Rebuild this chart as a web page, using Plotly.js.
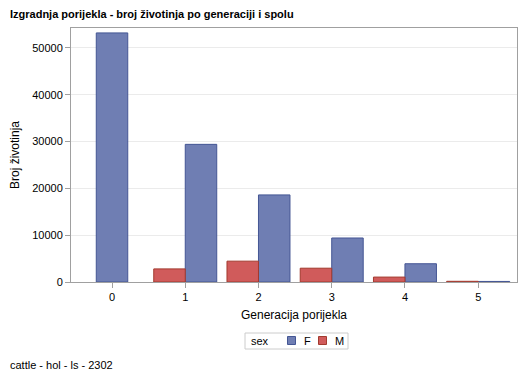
<!DOCTYPE html>
<html>
<head>
<meta charset="utf-8">
<script src="https://cdn.plot.ly/plotly-3.0.1.min.js"></script>
<style>html,body{margin:0;padding:0;background:#fff;}#chart{width:529px;height:378px;}</style>
</head>
<body>
<div id="chart"></div>
<script>
const generations = [0, 1, 2, 3, 4, 5];
const femaleCounts = [53200, 29400, 18600, 9400, 3900, 120];
const maleCounts = [null, 2800, 4450, 2950, 1050, 150];
const yTicks = [0, 10000, 20000, 30000, 40000, 50000];
const seriesNames = ['F', 'M'];
const legendTitle = 'sex';

const barW = 0.43;
const fOffset = maleCounts.map(v => v == null ? -barW / 2 : 0);
const mOffset = maleCounts.map(() => -barW);

const font = "Arial, 'Liberation Sans', sans-serif";
const fill = {F: '#6F7EB3', M: '#D05B5B'};
const edge = {F: '#445694', M: '#A23A2E'};

const M = {l: 71, r: 12, t: 28, b: 96};
const W = 529, H = 378;
const pw = W - M.l - M.r, ph = H - M.t - M.b;
const px = x => (x - M.l) / pw;
const py = y => (H - M.b - y) / ph;

const traces = [
  {
    type: 'bar', name: 'F', x: generations, y: femaleCounts,
    width: barW, offset: fOffset,
    marker: {color: fill.F, line: {color: edge.F, width: 1}}
  },
  {
    type: 'bar', name: 'M', x: generations, y: maleCounts,
    width: barW, offset: mOffset,
    marker: {color: fill.M, line: {color: edge.M, width: 1}}
  }
];

// legend drawn by hand (SAS-style compact box)
const shapes = [
  {type: 'rect', xref: 'paper', yref: 'paper', x0: px(245), x1: px(348), y0: py(333), y1: py(349),
   line: {color: '#CCCCCC', width: 1}, fillcolor: '#fff', layer: 'above'},
  {type: 'rect', xref: 'paper', yref: 'paper', x0: px(287.5), x1: px(295.5), y0: py(336.5), y1: py(344.5),
   line: {color: edge.F, width: 1}, fillcolor: fill.F, layer: 'above'},
  {type: 'rect', xref: 'paper', yref: 'paper', x0: px(318.5), x1: px(326.5), y0: py(336.5), y1: py(344.5),
   line: {color: edge.M, width: 1}, fillcolor: fill.M, layer: 'above'}
];

const annotations = [
  {text: legendTitle, x: px(249), y: py(341), xanchor: 'left', yanchor: 'middle'},
  {text: seriesNames[0], x: px(302), y: py(341), xanchor: 'left', yanchor: 'middle'},
  {text: seriesNames[1], x: px(332.5), y: py(341), xanchor: 'left', yanchor: 'middle'},
  {text: 'cattle - hol - ls - 2302', x: px(8), y: py(365), xanchor: 'left', yanchor: 'middle'}
].map(a => Object.assign({xref: 'paper', yref: 'paper', showarrow: false, font: {size: 11, color: '#000'}}, a));

const layout = {
  width: W, height: H,
  margin: {l: M.l, r: M.r, t: M.t, b: M.b, pad: 0},
  paper_bgcolor: '#fff', plot_bgcolor: '#fff',
  font: {family: font, size: 11, color: '#000'},
  barmode: 'overlay',
  showlegend: false,
  title: {
    text: '<b>Izgradnja porijekla - broj životinja po generaciji i spolu</b>',
    x: 10 / W, xref: 'container', xanchor: 'left', y: 1 - 14 / H, yref: 'container', yanchor: 'middle',
    font: {family: font, size: 11, color: '#000'}
  },
  xaxis: {
    type: 'linear', range: [-0.56, 5.53],
    tickvals: generations, ticktext: generations.map(String),
    ticks: 'outside', ticklen: 5, tickcolor: '#A0A0A0',
    showline: true, linecolor: '#A0A0A0', mirror: true,
    showgrid: false, zeroline: false,
    tickfont: {size: 11},
    title: {text: 'Generacija porijekla', font: {size: 12}, standoff: 8}
  },
  yaxis: {
    range: [0, 54250],
    tickvals: yTicks, ticktext: yTicks.map(String),
    ticks: 'outside', ticklen: 5, tickcolor: '#A0A0A0',
    showline: true, linecolor: '#A0A0A0', mirror: true,
    showgrid: true, gridcolor: '#EBEBEB', zeroline: false,
    tickfont: {size: 11},
    title: {text: 'Broj životinja', font: {size: 12}, standoff: 10}
  },
  shapes: shapes,
  annotations: annotations
};

Plotly.newPlot('chart', traces, layout, {displayModeBar: false, staticPlot: true});
</script>
</body>
</html>
